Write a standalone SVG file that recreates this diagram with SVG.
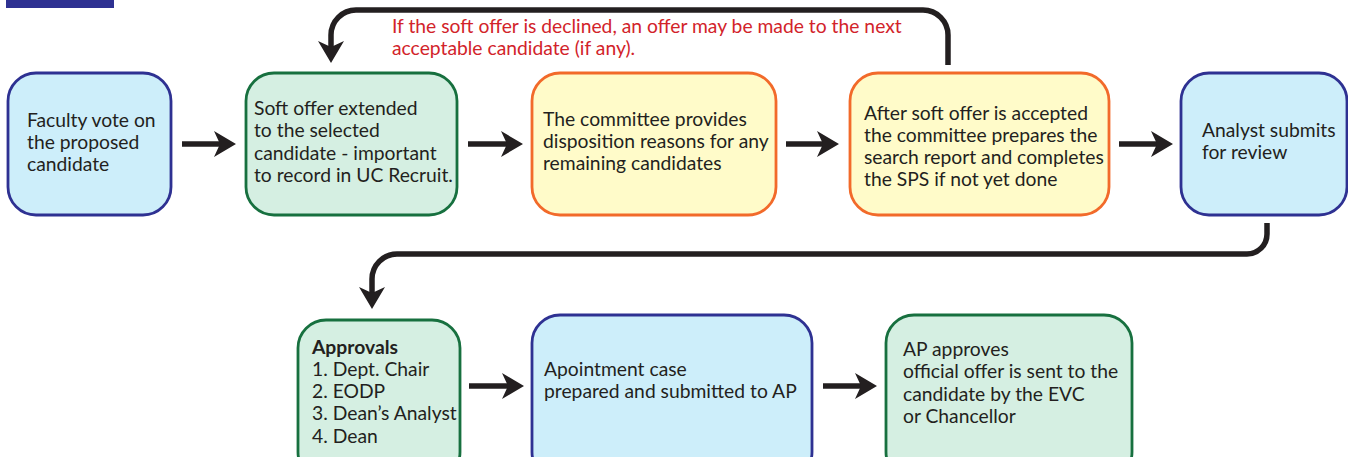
<svg xmlns="http://www.w3.org/2000/svg" width="1348" height="457" viewBox="0 0 1348 457">
<style>
.box{stroke-width:2.8}
.blue{fill:#cdeefa;stroke:#2e3192}
.green{fill:#d5efe2;stroke:#17703f}
.orange{fill:#fffbc9;stroke:#f26a2a}
.t{font-family:Lato,"Open Sans",sans-serif;font-size:19.3px;fill:#231f20}
.red{font-family:Lato,"Open Sans",sans-serif;font-size:19.3px;fill:#d2232a}
.b{font-weight:bold}
.con{fill:none;stroke:#231f20;stroke-width:5.5}
</style>
<defs>
<marker id="ah" viewBox="0 0 22 26" markerWidth="22" markerHeight="26" markerUnits="userSpaceOnUse" refX="14" refY="13" orient="auto">
<path d="M0,0 L22,13 L0,26 L6,13 Z" fill="#231f20"/>
</marker>
</defs>
<rect x="6" y="-2" width="108" height="10" fill="#2e3192"/>
<g id="connectors">
<line class="con" x1="182" y1="144" x2="228" y2="144" marker-end="url(#ah)"/>
<line class="con" x1="468" y1="144" x2="515" y2="144" marker-end="url(#ah)"/>
<line class="con" x1="786" y1="144" x2="831" y2="144" marker-end="url(#ah)"/>
<line class="con" x1="1119" y1="144" x2="1165" y2="144" marker-end="url(#ah)"/>
<line class="con" x1="469" y1="386" x2="516" y2="386" marker-end="url(#ah)"/>
<line class="con" x1="823" y1="386" x2="869" y2="386" marker-end="url(#ah)"/>
<path class="con" d="M948,65 V35 A25,25 0 0 0 923,10 H356 A25,25 0 0 0 331,35 V55" marker-end="url(#ah)"/>
<path class="con" d="M1267,223 V234 A20,20 0 0 1 1247,254 H397 A25,25 0 0 0 372,279 V301" marker-end="url(#ah)"/>
</g>
<g id="n1">
<rect class="box blue" x="8" y="73" width="163" height="142" rx="28"/>
<text class="t" x="27" y="127">Faculty vote on</text>
<text class="t" x="27" y="149">the proposed</text>
<text class="t" x="27" y="171">candidate</text>
</g>
<g id="n2">
<rect class="box green" x="246" y="73" width="211" height="142" rx="28"/>
<text class="t" x="254" y="115">Soft offer extended</text>
<text class="t" x="254" y="137">to the selected</text>
<text class="t" x="254" y="160">candidate - important</text>
<text class="t" x="254" y="182">to record in UC Recruit.</text>
</g>
<g id="n3">
<rect class="box orange" x="532" y="73" width="244" height="142" rx="28"/>
<text class="t" x="543" y="126">The committee provides</text>
<text class="t" x="543" y="148">disposition reasons for any</text>
<text class="t" x="543" y="170">remaining candidates</text>
</g>
<g id="n4">
<rect class="box orange" x="850" y="73" width="259" height="142" rx="28"/>
<text class="t" x="864" y="120">After soft offer is accepted</text>
<text class="t" x="864" y="142">the committee prepares the</text>
<text class="t" x="864" y="164">search report and completes</text>
<text class="t" x="864" y="186">the SPS if not yet done</text>
</g>
<g id="n5">
<rect class="box blue" x="1181" y="73" width="166" height="142" rx="28"/>
<text class="t" x="1202" y="137">Analyst submits</text>
<text class="t" x="1202" y="159">for review</text>
</g>
<g id="note">
<text class="red" x="392" y="33">If the soft offer is declined, an offer may be made to the next</text>
<text class="red" x="392" y="55">acceptable candidate (if any).</text>
</g>
<g id="n6">
<rect class="box green" x="298" y="320" width="162" height="160" rx="28"/>
<text class="t b" x="312" y="354">Approvals</text>
<text class="t" x="312" y="376">1. Dept. Chair</text>
<text class="t" x="312" y="398">2. EODP</text>
<text class="t" x="312" y="420">3. Dean’s Analyst</text>
<text class="t" x="312" y="443">4. Dean</text>
</g>
<g id="n7">
<rect class="box blue" x="532" y="315" width="280" height="165" rx="28"/>
<text class="t" x="544" y="376">Apointment case</text>
<text class="t" x="544" y="398">prepared and submitted to AP</text>
</g>
<g id="n8">
<rect class="box green" x="886" y="315" width="246" height="165" rx="28"/>
<text class="t" x="903" y="356">AP approves</text>
<text class="t" x="903" y="378">official offer is sent to the</text>
<text class="t" x="903" y="401">candidate by the EVC</text>
<text class="t" x="903" y="423">or Chancellor</text>
</g>
</svg>
